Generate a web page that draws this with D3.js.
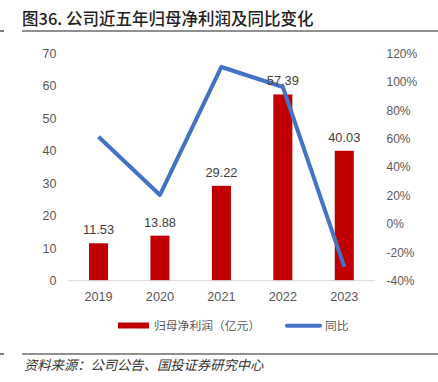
<!DOCTYPE html>
<html><head><meta charset="utf-8">
<script src="https://cdn.jsdelivr.net/npm/d3@7"></script>
<style>body{margin:0;background:#fff;}svg{display:block;}</style>
</head><body>
<svg id="c" width="438" height="382"></svg>
<script>
const years = ["2019","2020","2021","2022","2023"];
const profit = [11.53, 13.88, 29.22, 57.39, 40.03];
const yoy = [61.4, 20.4, 110.5, 96.4, -30.2];
const leftTicks = [0,10,20,30,40,50,60,70];
const rightTicks = [-40,-20,0,20,40,60,80,100,120];
const title = "图36. 公司近五年归母净利润及同比变化";
const source = "资料来源：公司公告、国投证券研究中心";
const legendLabels = ["归母净利润（亿元）","同比"];

const svg = d3.select("#c");
const font = "'Liberation Sans', 'Noto Sans CJK SC', sans-serif";
const cjk = "'Noto Sans CJK SC', sans-serif";

const x = d3.scaleBand().domain(years).range([67.8, 375]).paddingInner(0.69).paddingOuter(0.345);
const yL = d3.scaleLinear().domain([0,70]).range([280.7, 53.5]);
const yR = d3.scaleLinear().domain([-40,120]).range([280.7, 53.5]);

// title
svg.append("text").attr("x",22).attr("y",25).attr("font-family",cjk).attr("font-size",16.5).attr("font-weight",500).attr("fill","#222").text(title);
svg.append("line").attr("x1",22).attr("x2",438).attr("y1",31).attr("y2",31).attr("stroke","#222").attr("stroke-width",1.2);
svg.append("line").attr("x1",0).attr("x2",4).attr("y1",31).attr("y2",31).attr("stroke","#222").attr("stroke-width",1.2);

// left axis labels
svg.append("g").selectAll("text").data(leftTicks).join("text")
  .attr("x",56.5).attr("y",d=>yL(d)).attr("dy","0.35em").attr("text-anchor","end")
  .attr("font-family",font).attr("font-size",12.5).attr("fill","#595959").text(d=>d);
// right axis labels
svg.append("g").selectAll("text").data(rightTicks).join("text")
  .attr("x",386.5).attr("y",d=>yR(d)).attr("dy","0.35em").attr("text-anchor","start")
  .attr("font-family",font).attr("font-size",12).attr("fill","#595959").text(d=>d+"%");

// bars
svg.append("g").selectAll("rect").data(profit).join("rect")
  .attr("x",(d,i)=>x(years[i])).attr("width",x.bandwidth())
  .attr("y",d=>yL(d)).attr("height",d=>yL(0)-yL(d)).attr("fill","#C00000");

// baseline
svg.append("line").attr("x1",67.8).attr("x2",375).attr("y1",yL(0)).attr("y2",yL(0)).attr("stroke","#d9d9d9").attr("stroke-width",1);

// x labels
svg.append("g").selectAll("text").data(years).join("text")
  .attr("x",d=>x(d)+x.bandwidth()/2).attr("y",301).attr("text-anchor","middle")
  .attr("font-family",font).attr("font-size",12.7).attr("fill","#595959").text(d=>d);

// line
const line = d3.line().x((d,i)=>x(years[i])+x.bandwidth()/2).y(d=>yR(d));
svg.append("path").datum(yoy).attr("d",line).attr("fill","none").attr("stroke","#4472C4").attr("stroke-width",4).attr("stroke-linejoin","round");

// data labels
svg.append("g").selectAll("text").data(profit).join("text")
  .attr("x",(d,i)=>x(years[i])+x.bandwidth()/2).attr("y",d=>yL(d)-9).attr("text-anchor","middle")
  .attr("font-family",font).attr("font-size",12.8).attr("fill","#404040").text(d=>d.toFixed(2));

// legend
svg.append("rect").attr("x",118).attr("y",322.5).attr("width",31).attr("height",6).attr("fill","#C00000");
svg.append("text").attr("x",154).attr("y",326).attr("dy","0.35em").attr("font-family",cjk).attr("font-size",11.8).attr("fill","#595959").text(legendLabels[0]);
svg.append("line").attr("x1",287).attr("x2",320).attr("y1",325.7).attr("y2",325.7).attr("stroke","#4472C4").attr("stroke-width",4).attr("stroke-linecap","round");
svg.append("text").attr("x",325).attr("y",326).attr("dy","0.35em").attr("font-family",cjk).attr("font-size",11.8).attr("fill","#595959").text(legendLabels[1]);

// bottom rule & source
svg.append("line").attr("x1",22).attr("x2",438).attr("y1",354).attr("y2",354).attr("stroke","#222").attr("stroke-width",1.2);
svg.append("line").attr("x1",0).attr("x2",4).attr("y1",354).attr("y2",354).attr("stroke","#222").attr("stroke-width",1.2);
svg.append("text").attr("x",24).attr("y",370).attr("font-family",cjk).attr("font-size",13.3).attr("font-style","italic").attr("fill","#333").text(source);
</script>
</body></html>
